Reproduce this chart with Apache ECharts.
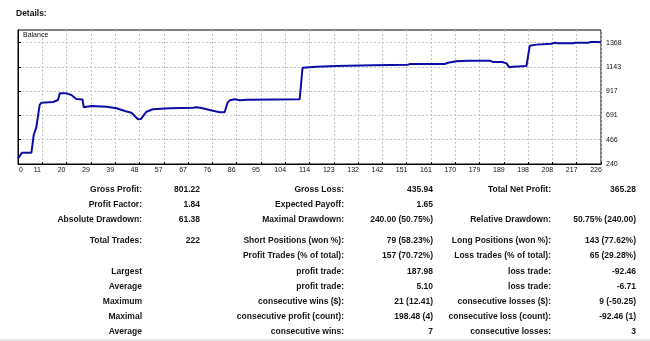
<!DOCTYPE html>
<html><head><meta charset="utf-8">
<script src="https://cdn.jsdelivr.net/npm/echarts@6/dist/echarts.min.js"></script>
<style>html,body{margin:0;padding:0;background:#fff}#c{width:650px;height:341px}</style>
</head><body><div id="c"></div>
<script>
// Balance curve: [trade #, balance]
const balance = [[0,290],[1.5,345],[5.2,345],[6.1,510],[7.1,581],[8.4,789],[9.1,810],[13.6,817],[14.2,835],[15.5,835],[16.2,897],[18.8,897],[20.7,882],[22.6,845],[25,840],[25.5,767],[26,749],[28.5,780],[34.3,773],[38.2,758],[41.4,733],[44,717],[46.5,656],[47.6,658],[49.8,726],[52.3,749],[58.8,758],[67.9,764],[69.2,767],[71.1,760],[74.3,742],[78.2,721],[80.1,721],[81.2,810],[82.1,832],[84,842],[86,832],[88.8,838],[109.2,842],[110.3,1136],[115.7,1145],[123.4,1151],[137.6,1158],[138,1164],[151.2,1164],[152,1170],[165.4,1170],[166.7,1182],[170,1195],[174.5,1201],[183,1201],[184,1189],[187.7,1189],[189.4,1176],[190.4,1139],[191.9,1145],[197.1,1151],[198.4,1340],[201,1350],[206.8,1358],[208.1,1368],[209.4,1362],[215.2,1362],[216,1367],[221,1368],[222,1374],[225,1375],[226,1369]];
const xTickLabels = ['0','11','20','29','39','48','57','67','76','86','95','104','114','123','132','142','151','161','170','179','189','198','208','217','226'];
const yTickValues = [240,465.6,691.2,916.8,1142.4,1368];
const yTickLabels = ['240','466','691','917','1143','1368'];

// Stats table rows: [label1, value1, label2, value2, label3, value3]
const statsRows = [
  ['Gross Profit:','801.22','Gross Loss:','435.94','Total Net Profit:','365.28'],
  ['Profit Factor:','1.84','Expected Payoff:','1.65','',''],
  ['Absolute Drawdown:','61.38','Maximal Drawdown:','240.00 (50.75%)','Relative Drawdown:','50.75% (240.00)'],
  ['Total Trades:','222','Short Positions (won %):','79 (58.23%)','Long Positions (won %):','143 (77.62%)'],
  ['','','Profit Trades (% of total):','157 (70.72%)','Loss trades (% of total):','65 (29.28%)'],
  ['Largest','','profit trade:','187.98','loss trade:','-92.46'],
  ['Average','','profit trade:','5.10','loss trade:','-6.71'],
  ['Maximum','','consecutive wins ($):','21 (12.41)','consecutive losses ($):','9 (-50.25)'],
  ['Maximal','','consecutive profit (count):','198.48 (4)','consecutive loss (count):','-92.46 (1)'],
  ['Average','','consecutive wins:','7','consecutive losses:','3']
];
const rowY = [190,205,220,241,256,271.5,286.5,301.5,316.5,331.5];
const colX = [142,200,344,433,551,636];

const FONT = '"Liberation Sans", Arial, sans-serif';
const graphics = [
  {type:'text', left:16, top:9, style:{text:'Details:', font:'bold 8.5px '+FONT, fill:'#111'}},
  {type:'text', left:23, top:32, style:{text:'Balance', font:'7px '+FONT, fill:'#111'}, z:10},
  {type:'rect', shape:{x:0,y:339,width:650,height:2}, style:{fill:'#e6e6e6'}}
];
statsRows.forEach((row,ri)=>{
  row.forEach((t,ci)=>{
    if(!t) return;
    graphics.push({type:'text', x:colX[ci], y:rowY[ri],
      style:{text:t, font:'bold 8.5px '+FONT, fill:'#151515', textAlign:'right', textVerticalAlign:'middle'}});
  });
});

const chart = echarts.init(document.getElementById('c'), null, {renderer:'canvas'});
chart.setOption({
  animation:false,
  backgroundColor:'#fff',
  grid:{left:18, top:30, right:49, bottom:177, show:true, borderColor:'#000', borderWidth:1, backgroundColor:'#fff', containLabel:false},
  xAxis:[
    {type:'category', data:xTickLabels, boundaryGap:false, position:'bottom',
     axisLine:{show:true, lineStyle:{color:'#000', width:1}},
     axisTick:{show:true, length:2, inside:true, lineStyle:{color:'#000'}},
     axisLabel:{margin:3, fontSize:7, fontFamily:FONT, color:'#111', interval:0,
       formatter:(v,i)=> i===0 ? '{f|'+v+'}' : '{n|'+v+'}',
       rich:{f:{padding:[0,0,0,6], fontSize:7, fontFamily:FONT, color:'#111'},
             n:{padding:[0,10,0,0], fontSize:7, fontFamily:FONT, color:'#111'}}},
     splitLine:{show:true, lineStyle:{color:'#c4c4c4', type:[2,2], width:1}}},
    {type:'value', min:0, max:226, show:false, splitLine:{show:false}}
  ],
  yAxis:{type:'value', position:'right', min:240, max:1486,
    axisLine:{show:true, lineStyle:{color:'#000'}},
    axisTick:{show:true, length:3, customValues:yTickValues, lineStyle:{color:'#000'}},
    axisLabel:{margin:5, fontSize:7, fontFamily:FONT, color:'#111', customValues:yTickValues,
      formatter:(v)=>{const i=yTickValues.findIndex(t=>Math.abs(t-v)<0.01);return i>=0?yTickLabels[i]:'';}},
    splitLine:{show:true, lineStyle:{color:'#c4c4c4', type:[2,2], width:1}}},
  series:[{type:'line', xAxisIndex:1, data:balance, showSymbol:false, symbol:'none',
    lineStyle:{color:'#0c0ca6', width:2}, z:5}],
  graphic:graphics
});
</script></body></html>
